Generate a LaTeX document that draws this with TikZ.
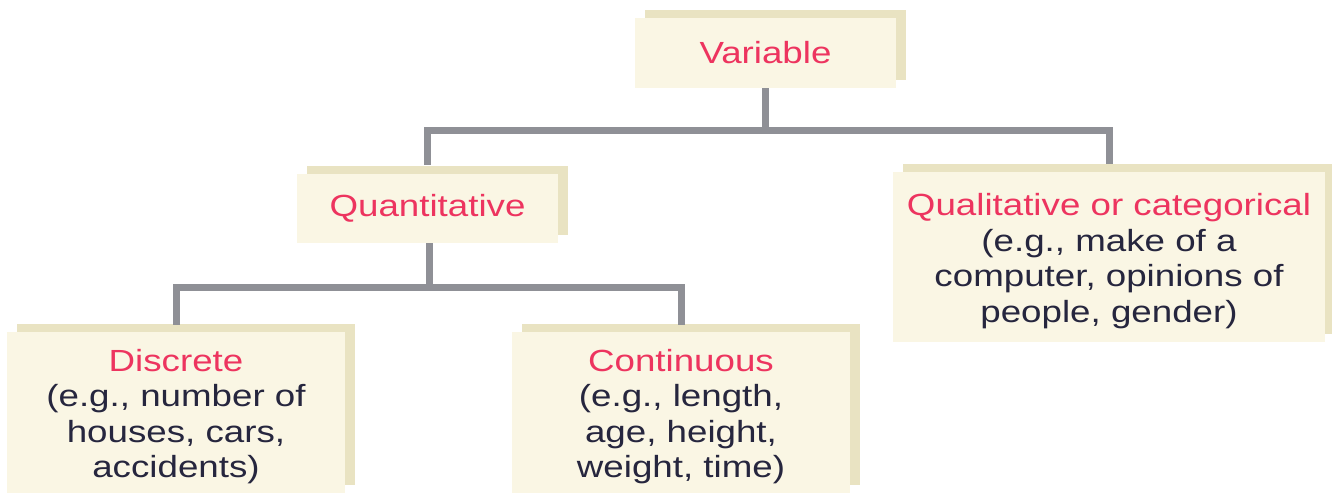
\documentclass[tikz,border=0pt]{standalone}
\usepackage{fontspec}
\setmainfont{Liberation Sans}[FakeStretch=1.2]
\usetikzlibrary{shadows}

\definecolor{boxfront}{RGB}{250,246,228}
\definecolor{boxback}{RGB}{233,227,194}
\definecolor{linkgray}{RGB}{143,144,150}
\definecolor{headred}{RGB}{237,52,95}
\definecolor{bodyink}{RGB}{38,38,62}

\tikzset{
  catbox/.style={fill=boxfront, draw=none, align=center, inner sep=0pt,
    font=\fontsize{15.3}{17.75}\selectfont, text=bodyink,
    general shadow={fill=boxback, shadow xshift=5pt, shadow yshift=4pt}},
  link/.style={draw=linkgray, line width=3.5pt, line join=miter},
}
\newcommand{\headtext}[1]{\textcolor{headred}{#1}}
% extra room above the first line of a multi-line box
\newcommand{\topgap}{\rule{0pt}{15pt}}

\begin{document}
\begin{tikzpicture}[x=0.5pt,y=-0.5pt]
\useasboundingbox (0,0) rectangle (1332,495);

% category boxes
\node[catbox, minimum width=130.5pt, minimum height=35pt] (var) at (765.5,53)
  {\headtext{Variable}};
\node[catbox, minimum width=130.5pt, minimum height=34.5pt] (quant) at (427.5,208.5)
  {\headtext{Quantitative}};
\node[catbox, minimum width=216pt, minimum height=85pt] (qual) at (1109,257)
  {\topgap\headtext{Qualitative or categorical}\\(e.g., make of a\\computer, opinions of\\people, gender)};
\node[catbox, minimum width=169pt, minimum height=80.5pt] (disc) at (176,412.5)
  {\topgap\headtext{Discrete}\\(e.g., number of\\houses, cars,\\accidents)};
\node[catbox, minimum width=169pt, minimum height=80.5pt] (cont) at (681,412.5)
  {\topgap\headtext{Continuous}\\(e.g., length,\\age, height,\\weight, time)};

% branching connectors
\coordinate (j1) at (765.5,130);
\coordinate (j2) at (429,287);
\draw[link] (var.south) -- (j1);
\draw[link] ([yshift=4.5pt]quant.north) |- (j1) -| ([yshift=4pt]qual.north);
\draw[link] (quant.south -| j2) -- (j2);
\draw[link] ([yshift=3.5pt]disc.north) |- (j2) -| ([yshift=3.5pt]cont.north);
\end{tikzpicture}
\end{document}
